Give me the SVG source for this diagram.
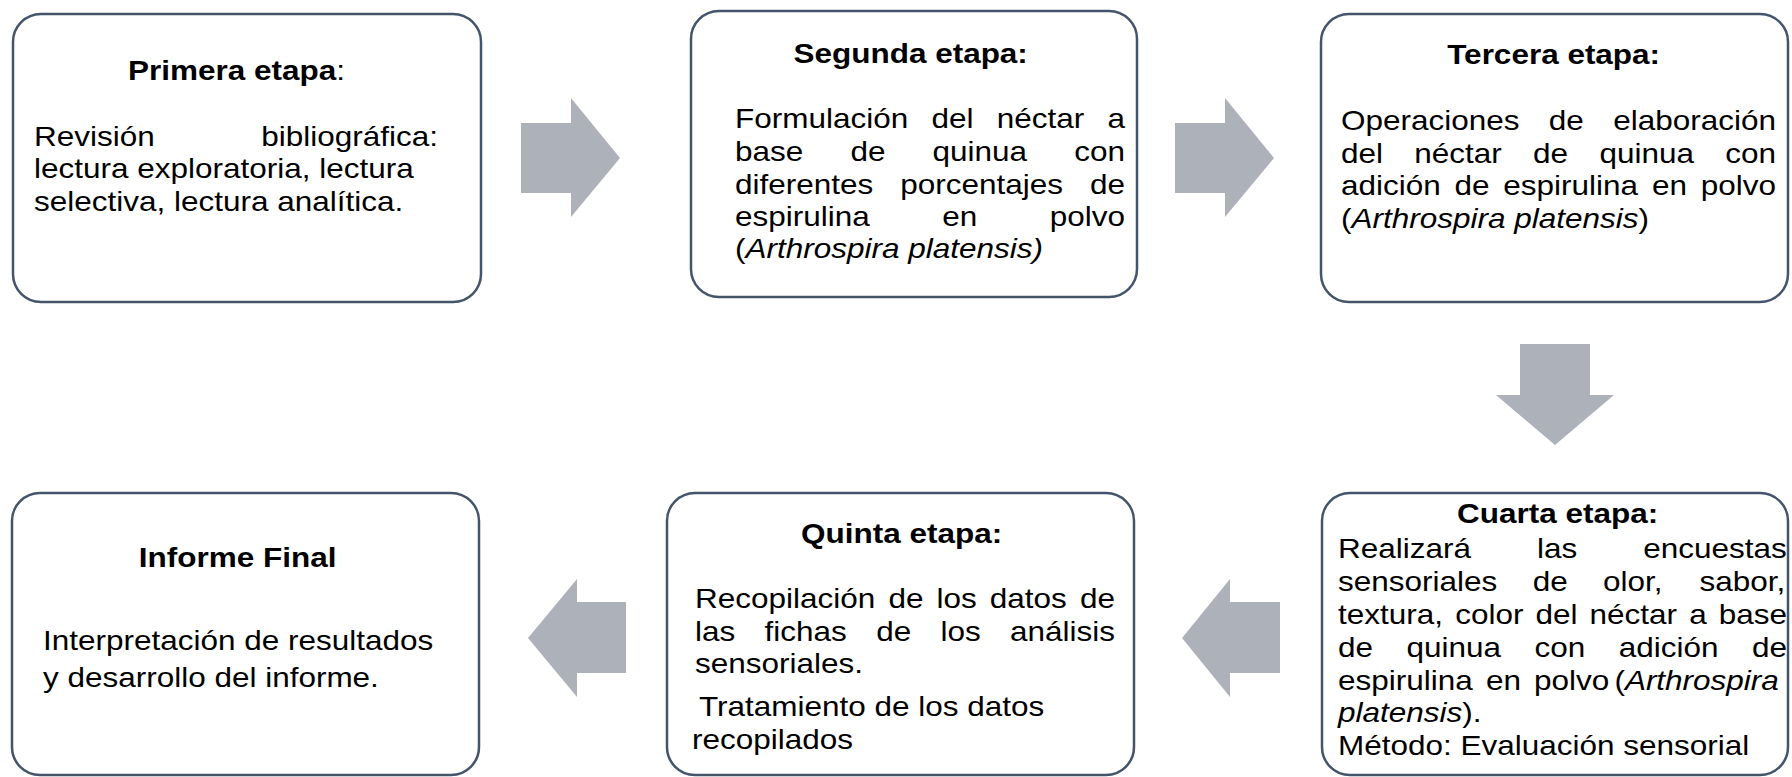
<svg xmlns="http://www.w3.org/2000/svg" width="1792" height="777" viewBox="0 0 1792 777">
<style>
.box{fill:#fff;stroke:#44546A;stroke-width:2.5}
.arrow{fill:#ADB2BA}
.t{font-family:"Liberation Sans",Arial,sans-serif;font-size:28.5px;fill:#000}
.b{font-weight:bold}
.i{font-style:italic}
</style>
<rect width="1792" height="777" fill="#fff"/>
<g id="connectors">
<polygon class="arrow" points="521,123 571,123 571,98 620,158 571,217 571,193 521,193"/>
<polygon class="arrow" points="1175,123 1225,123 1225,98 1274,158 1225,217 1225,193 1175,193"/>
<polygon class="arrow" points="1520,344 1590,344 1590,395 1614,395 1555,445 1496,395 1520,395"/>
<polygon class="arrow" points="1280,602 1230,602 1230,579 1182,638 1230,697 1230,673 1280,673"/>
<polygon class="arrow" points="626,602 577,602 577,579 528,638 577,697 577,673 626,673"/>
</g>
<g id="primera">
<rect class="box" x="13" y="14" width="468" height="288" rx="28"/>
<text class="t" transform="scale(1.105 1)">
<tspan x="115.8" y="80" class="b">Primera etapa</tspan><tspan>:</tspan>
<tspan x="30.8" y="146">Revisión</tspan><tspan x="236.4" y="146">bibliográfica:</tspan>
<tspan x="30.8" y="178">lectura exploratoria, lectura</tspan>
<tspan x="30.8" y="211">selectiva, lectura analítica.</tspan>
</text>
</g>
<g id="segunda">
<rect class="box" x="691" y="11" width="446" height="286" rx="28"/>
<text class="t" transform="scale(1.105 1)">
<tspan x="828.1" y="63" class="b" text-anchor="middle">Segunda etapa:</tspan>
<tspan x="665.2" y="128">Formulación</tspan><tspan x="843" y="128">del</tspan><tspan x="902" y="128">néctar</tspan><tspan x="1002.3" y="128">a</tspan>
<tspan x="665.2" y="161">base</tspan><tspan x="769.6" y="161">de</tspan><tspan x="843.9" y="161">quinua</tspan><tspan x="972.1" y="161">con</tspan>
<tspan x="665.2" y="194">diferentes</tspan><tspan x="814.8" y="194">porcentajes</tspan><tspan x="986.4" y="194">de</tspan>
<tspan x="665.2" y="226">espirulina</tspan><tspan x="852.7" y="226">en</tspan><tspan x="950" y="226">polvo</tspan>
<tspan x="665.2" y="258">(</tspan><tspan class="i">Arthrospira platensis)</tspan>
</text>
</g>
<g id="tercera">
<rect class="box" x="1321" y="14" width="467" height="288" rx="28"/>
<text class="t" transform="scale(1.105 1)">
<tspan x="1410" y="64" class="b" text-anchor="middle">Tercera etapa:</tspan>
<tspan x="1213.6" y="130">Operaciones</tspan><tspan x="1401.7" y="130">de</tspan><tspan x="1459.9" y="130">elaboración</tspan>
<tspan x="1213.6" y="163">del</tspan><tspan x="1279.9" y="163">néctar</tspan><tspan x="1387.4" y="163">de</tspan><tspan x="1447.4" y="163">quinua</tspan><tspan x="1561.3" y="163">con</tspan>
<tspan x="1213.6" y="195">adición</tspan><tspan x="1316.4" y="195">de</tspan><tspan x="1360.5" y="195">espirulina</tspan><tspan x="1495" y="195">en</tspan><tspan x="1539.1" y="195">polvo</tspan>
<tspan x="1213.6" y="228">(</tspan><tspan class="i">Arthrospira platensis</tspan><tspan>)</tspan>
</text>
</g>
<g id="cuarta">
<rect class="box" x="1322" y="493" width="466" height="282" rx="28"/>
<text class="t" transform="scale(1.105 1)">
<tspan x="1413.6" y="523" class="b" text-anchor="middle">Cuarta etapa:</tspan>
<tspan x="1210.9" y="558">Realizará</tspan><tspan x="1391" y="558">las</tspan><tspan x="1487.2" y="558">encuestas</tspan>
<tspan x="1210.9" y="591">sensoriales</tspan><tspan x="1387" y="591">de</tspan><tspan x="1450.6" y="591">olor,</tspan><tspan x="1538" y="591">sabor,</tspan>
<tspan x="1210.9" y="624">textura,</tspan><tspan x="1316.9" y="624">color</tspan><tspan x="1389.6" y="624">del</tspan><tspan x="1438.5" y="624">néctar</tspan><tspan x="1528.7" y="624">a</tspan><tspan x="1555.4" y="624">base</tspan>
<tspan x="1210.9" y="657">de</tspan><tspan x="1272.9" y="657">quinua</tspan><tspan x="1388.7" y="657">con</tspan><tspan x="1465" y="657">adición</tspan><tspan x="1585.5" y="657">de</tspan>
<tspan x="1210.9" y="690">espirulina</tspan><tspan x="1344.7" y="690">en</tspan><tspan x="1388.2" y="690">polvo</tspan><tspan x="1461" y="690">(</tspan><tspan class="i">Arthrospira</tspan>
<tspan x="1210.9" y="722" class="i">platensis</tspan><tspan>).</tspan>
<tspan x="1210.9" y="755">Método: Evaluación sensorial</tspan>
</text>
</g>
<g id="quinta">
<rect class="box" x="667" y="493" width="467" height="282" rx="28"/>
<text class="t" transform="scale(1.105 1)">
<tspan x="819.9" y="543" class="b" text-anchor="middle">Quinta etapa:</tspan>
<tspan x="629" y="608">Recopilación</tspan><tspan x="804" y="608">de</tspan><tspan x="847.5" y="608">los</tspan><tspan x="895.8" y="608">datos</tspan><tspan x="977.4" y="608">de</tspan>
<tspan x="629" y="641">las</tspan><tspan x="691.9" y="641">fichas</tspan><tspan x="792.9" y="641">de</tspan><tspan x="851.1" y="641">los</tspan><tspan x="914" y="641">análisis</tspan>
<tspan x="629" y="673">sensoriales.</tspan>
<tspan x="632.6" y="716">Tratamiento de los datos</tspan>
<tspan x="626.2" y="749">recopilados</tspan>
</text>
</g>
<g id="informe">
<rect class="box" x="12" y="493" width="467" height="282" rx="28"/>
<text class="t" transform="scale(1.105 1)">
<tspan x="219" y="567" class="b" text-anchor="middle">Informe Final</tspan>
<tspan x="38.9" y="650">Interpretación de resultados</tspan>
<tspan x="38.9" y="687">y desarrollo del informe.</tspan>
</text>
</g>
</svg>
